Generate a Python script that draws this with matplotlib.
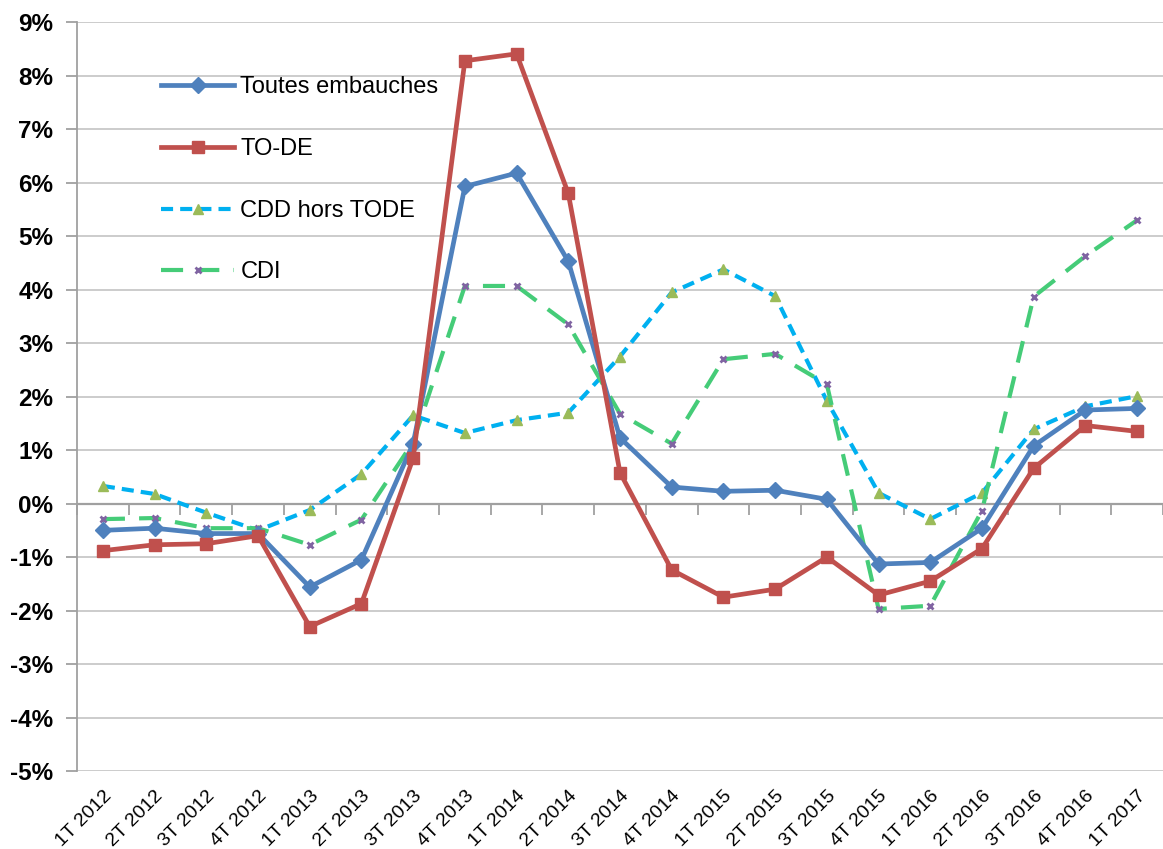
import numpy as np
import matplotlib; matplotlib.use("Agg")
import matplotlib.pyplot as plt
from matplotlib.ticker import FuncFormatter

quarters = ["1T 2012", "2T 2012", "3T 2012", "4T 2012",
            "1T 2013", "2T 2013", "3T 2013", "4T 2013",
            "1T 2014", "2T 2014", "3T 2014", "4T 2014",
            "1T 2015", "2T 2015", "3T 2015", "4T 2015",
            "1T 2016", "2T 2016", "3T 2016", "4T 2016", "1T 2017"]

toutes = [-0.50, -0.46, -0.56, -0.56, -1.56, -1.05, 1.12, 5.93, 6.18, 4.53,
          1.23, 0.31, 0.23, 0.25, 0.08, -1.13, -1.10, -0.46, 1.08, 1.75, 1.78]
tode = [-0.88, -0.77, -0.75, -0.60, -2.30, -1.87, 0.85, 8.28, 8.41, 5.80,
        0.58, -1.24, -1.75, -1.60, -1.00, -1.71, -1.45, -0.84, 0.66, 1.46, 1.35]
cdd = [0.33, 0.18, -0.17, -0.50, -0.12, 0.55, 1.65, 1.32, 1.56, 1.70,
       2.75, 3.95, 4.38, 3.88, 1.92, 0.20, -0.29, 0.20, 1.39, 1.82, 2.01]
cdi = [-0.29, -0.27, -0.46, -0.46, -0.77, -0.30, 1.15, 4.07, 4.07, 3.35,
       1.68, 1.12, 2.70, 2.80, 2.23, -1.97, -1.91, -0.13, 3.87, 4.63, 5.30]

BLUE = "#4F81BD"; RED = "#C0504D"; CYAN = "#00B0F0"; GREEN = "#45CC78"
OLIVE = "#9BBB59"; PURPLE = "#8064A2"; GRID = "#C8C8C8"; AX = "#A0A0A0"

plt.rcParams.update({"font.family": ["Liberation Sans", "DejaVu Sans"]})

fig = plt.figure(figsize=(11.63, 8.49), dpi=100)
ax = fig.add_axes([77/1163, 1 - 771/849, 1 - 77/1163, (771 - 22.3)/849])
x = np.arange(len(quarters))

ax.plot(x, toutes, color=BLUE, lw=3.4, marker="D", ms=8, mfc=BLUE, mec=BLUE,
        label="Toutes embauches", zorder=4)
ax.plot(x, tode, color=RED, lw=3.4, marker="s", ms=8, mfc=RED, mec=RED,
        label="TO-DE", zorder=4)
ax.plot(x, cdd, color=CYAN, lw=3.0, ls=(0, (2.9, 1.7)), marker="^", ms=6.5,
        mfc=OLIVE, mec=OLIVE, label="CDD hors TODE", zorder=3)
ax.plot(x, cdi, color=GREEN, lw=3.0, ls=(0, (5.3, 3.4)), marker="x", ms=5,
        mew=2.0, mfc=PURPLE, mec=PURPLE, label="CDI", zorder=3)

ax.set_xlim(-0.5, len(quarters) - 0.5)
ax.set_ylim(-5, 9)
ax.set_yticks(np.arange(-5, 10, 1))
ax.yaxis.set_major_formatter(FuncFormatter(lambda v, p: f"{v:.0f}%"))
ax.grid(axis="y", color=GRID, lw=1.3, zorder=0)
ax.set_axisbelow(True)
for s in ["top", "right", "bottom"]:
    ax.spines[s].set_visible(False)
ax.spines["left"].set_color(AX); ax.spines["left"].set_linewidth(1.3)
ax.tick_params(axis="y", length=8, width=1.3, color=AX, pad=9)
for t in ax.get_yticklabels():
    t.set_fontweight("bold"); t.set_fontsize(17.5)

# category labels at the bottom, no tick marks there
ax.set_xticks(x)
ax.set_xticklabels(quarters, rotation=45, ha="right", rotation_mode="anchor",
                   fontsize=14)
ax.tick_params(axis="x", length=0, pad=12)

# horizontal axis line at 0 with tick marks between categories
ax.axhline(0, color=AX, lw=1.6, zorder=2)
sec = ax.secondary_xaxis(5 / 14)
sec.set_xticks(np.arange(-0.5, len(quarters), 1))
sec.set_xticklabels([])
sec.tick_params(axis="x", length=8, width=1.3, color=AX, direction="out")
sec.spines["bottom"].set_visible(False)

ax.legend(loc="upper left", bbox_to_anchor=(0.058, 0.956), frameon=False,
          fontsize=17, handlelength=3.1, handletextpad=0.25, labelspacing=1.68,
          numpoints=1)

fig.savefig("out.png", dpi=100)
